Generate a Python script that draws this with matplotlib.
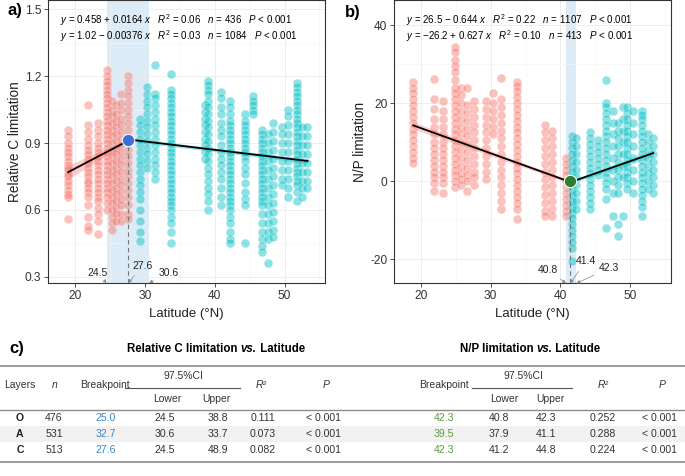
import numpy as np
import matplotlib
matplotlib.use("Agg")
import matplotlib.pyplot as plt
from matplotlib.lines import Line2D

plt.rcParams['font.family'] = ['Liberation Sans', 'DejaVu Sans']
plt.rcParams['mathtext.fontset'] = 'custom'
plt.rcParams['mathtext.rm'] = 'Liberation Sans'
plt.rcParams['mathtext.it'] = 'Liberation Sans:italic'
plt.rcParams['mathtext.bf'] = 'Liberation Sans:bold'
plt.rcParams['axes.unicode_minus'] = False

# ---------------- data: panel a (relative C limitation) ----------------
c_red = {
    19.0: [0.96, 0.93, 0.90, 0.88, 0.86, 0.84, 0.82, 0.80, 0.79, 0.78, 0.76, 0.75, 0.73, 0.71, 0.69, 0.67, 0.66, 0.56],
    21.9: [1.07, 0.98, 0.95, 0.92, 0.89, 0.87, 0.85, 0.83, 0.81, 0.79, 0.77, 0.75, 0.73, 0.72, 0.70, 0.68, 0.66, 0.62, 0.57, 0.53, 0.51],
    23.2: [0.99, 0.96, 0.93, 0.90, 0.88, 0.86, 0.84, 0.82, 0.80, 0.78, 0.76, 0.74, 0.72, 0.70, 0.68, 0.66, 0.64, 0.61, 0.58, 0.55, 0.49],
    24.6: [1.23, 1.20, 1.18, 1.16, 1.14, 1.12, 1.10, 1.08, 1.06, 1.04, 1.02, 1.00, 0.98, 0.96, 0.94, 0.92, 0.90, 0.88,
           0.86, 0.84, 0.82, 0.80, 0.78, 0.76, 0.74, 0.72, 0.70, 0.68, 0.66, 0.63, 0.60],
    25.3: [1.09, 1.05, 1.02, 0.99, 0.96, 0.93, 0.90, 0.87, 0.84, 0.81, 0.78, 0.75, 0.72, 0.69, 0.66, 0.63, 0.60, 0.57, 0.54, 0.51],
    25.9: [1.07, 1.03, 1.00, 0.97, 0.94, 0.91, 0.88, 0.85, 0.82, 0.79, 0.76, 0.73, 0.70, 0.67, 0.64, 0.61, 0.58, 0.55],
    26.5: [1.12, 1.08, 1.05, 1.01, 0.98, 0.95, 0.92, 0.89, 0.86, 0.83, 0.80, 0.77, 0.74, 0.71, 0.68, 0.65, 0.62, 0.58, 0.55],
    27.6: [1.20, 1.17, 1.14, 1.11, 1.08, 1.05, 1.02, 0.99, 0.96, 0.93, 0.90, 0.87, 0.84, 0.81, 0.78, 0.75, 0.72, 0.69,
           0.66, 0.62, 0.58, 0.56],
}
c_teal = {
    29.3: [1.01, 0.98, 0.95, 0.92, 0.89, 0.86, 0.83, 0.80, 0.77, 0.74, 0.71, 0.68, 0.65, 0.60, 0.55, 0.50, 0.46],
    30.3: [1.15, 1.12, 1.09, 1.06, 1.03, 1.00, 0.97, 0.94, 0.91, 0.88, 0.85, 0.82, 0.79],
    31.4: [1.25, 1.12, 1.10, 1.07, 1.04, 1.01, 0.98, 0.95, 0.92, 0.89, 0.86, 0.83, 0.80, 0.77, 0.74],
    33.8: [1.21, 1.14, 1.12, 1.10, 1.08, 1.06, 1.04, 1.02, 1.00, 0.98, 0.96, 0.94, 0.92, 0.90, 0.88, 0.86, 0.84, 0.82,
           0.80, 0.78, 0.76, 0.74, 0.72, 0.70, 0.68, 0.66, 0.64, 0.62, 0.60, 0.57, 0.54, 0.50, 0.45],
    38.6: [1.07, 1.04, 1.01, 0.98, 0.95, 0.92, 0.89, 0.86, 0.83],
    39.0: [1.18, 1.16, 1.14, 1.12, 1.09, 1.06, 1.03, 1.00, 0.97, 0.94, 0.91, 0.88, 0.85, 0.82, 0.79, 0.76, 0.73, 0.70,
           0.67, 0.64, 0.60],
    40.9: [1.13, 1.10, 1.06, 1.03, 0.99, 0.96, 0.93, 0.89, 0.86, 0.83, 0.80, 0.77, 0.74, 0.70, 0.66, 0.62],
    42.2: [1.09, 1.06, 1.03, 1.00, 0.98, 0.96, 0.94, 0.92, 0.90, 0.88, 0.86, 0.84, 0.82, 0.80, 0.78, 0.76, 0.74, 0.72,
           0.70, 0.68, 0.66, 0.64, 0.62, 0.60, 0.57, 0.54, 0.50, 0.47, 0.45],
    44.3: [1.03, 1.00, 0.98, 0.96, 0.94, 0.92, 0.90, 0.88, 0.86, 0.84, 0.82, 0.79, 0.76, 0.72, 0.68, 0.65, 0.62, 0.45],
    45.5: [1.11, 1.09, 1.07, 1.05, 1.03],
    46.7: [0.96, 0.94, 0.92, 0.90, 0.88, 0.86, 0.84, 0.82, 0.80, 0.78, 0.76, 0.74, 0.72, 0.70, 0.68, 0.66, 0.64, 0.62,
           0.58, 0.54, 0.50, 0.47, 0.44, 0.41],
    47.6: [0.94, 0.90, 0.86, 0.82, 0.78, 0.74, 0.70, 0.66, 0.62, 0.58, 0.54, 0.50, 0.47, 0.36],
    48.3: [0.99, 0.95, 0.91, 0.87, 0.83, 0.79, 0.75, 0.71, 0.67, 0.63, 0.59, 0.55, 0.51, 0.48],
    49.6: [0.97, 0.94, 0.90, 0.86, 0.82, 0.78, 0.74, 0.71],
    50.5: [1.05, 1.02, 0.98, 0.94, 0.90, 0.86, 0.82, 0.78, 0.74, 0.70, 0.66],
    51.8: [1.17, 1.15, 1.13, 1.11, 1.09, 1.07, 1.05, 1.03, 1.01, 0.99, 0.97, 0.95, 0.93, 0.91, 0.89, 0.87, 0.85, 0.83,
           0.81, 0.79, 0.77, 0.75, 0.73, 0.71, 0.68, 0.64],
    52.5: [0.97, 0.93, 0.89, 0.85, 0.81, 0.77, 0.73, 0.70, 0.66],
    53.2: [0.97, 0.93, 0.89, 0.85, 0.81, 0.77, 0.73, 0.70],
}

# ---------------- data: panel b (N/P limitation) ----------------
np_red = {
    18.9: [25.5, 24, 22.5, 21, 19.5, 18, 16.5, 15, 13.5, 12, 10.5, 9, 7.5, 6, 4.7],
    21.9: [26.3, 21, 18.5, 16, 14, 12, 10, 8.5, 7, 5.5, 4, 2.5, 1, -0.5, -2.5],
    23.2: [20.5, 18, 16, 14, 12, 10, 8.5, 7, 5.5, 4, 2.5, 1, -0.5, -3],
    24.9: [34.5, 33, 31, 29.5, 28, 26, 24, 22.5, 21, 19.5, 18, 16.5, 15, 13.5, 12, 10.5, 9, 7.5, 6, 4.5, 3, 1.5, 0, -1.5],
    25.7: [24, 22, 20, 18, 16, 14, 12, 10, 8, 6, 4, 2, 0.5, -1],
    26.6: [23.8, 19.5, 17.5, 15.5, 13.5, 11.5, 9.5, 7.5, 5.5, 3.5, 1.5, 0, -2.5],
    27.6: [20.5, 18.5, 16.5, 14.5, 12.5, 10.5, 8.5, 6.5, 4.5, 2.5, 1, -1],
    29.4: [20.5, 18.5, 16.5, 14.5, 12.5, 10.5, 8.5, 6.5, 4.5, 2.5, 0.5],
    30.4: [22.5, 20, 18, 16, 14, 12],
    31.5: [26.5, 21, 19, 17, 15, 13, 11, 9, 7, 5, 3, 1, -1, -3, -5, -7],
    33.8: [25.5, 24.5, 23, 21.5, 20, 18.5, 17, 15.5, 14, 12.5, 11, 9.5, 8, 6.5, 5, 3.5, 2, 0.5, -1, -2.5, -4, -5.5, -7, -9.7],
    37.8: [14.5, 12.5, 10.5, 8.5, 6.5, 4.5, 2.5, 0.5, -1.5, -3.5, -5.5, -7.5, -9],
    38.8: [13, 11, 9, 7, 5, 3, 1, -1, -3, -5, -7, -9],
    40.8: [6, 4.5, 3, 1.5, 0, -1.5, -3, -4.5, -6, -7.5, -9],
}
np_teal = {
    41.6: [11.5, 10, 8.5, 7, 5.5, 4, 2.5, 1, -0.5, -2, -3.5, -5, -6.5, -8, -9.5, -11, -12.5, -14, -15.5, -17, -20.5],
    42.3: [11, 9, 7, 5, 3, 1, -1, -3, -5, -7],
    44.3: [12.5, 11, 9.5, 8, 6.5, 5, 3.5, 2, 0.5, -1, -2.5, -4, -5.5, -7],
    45.4: [10.5, 9, 7.5, 6, 4.5, 3, 1.5],
    46.6: [26, 20, 19, 17.5, 16, 14.5, 13, 11.5, 10, 8.5, 7, 5.5, 4, 2.5, 1, -0.5, -2, -4.5, -12],
    47.5: [18, 15, 12, 9, 6, 3, 0, -3, -9],
    48.3: [15, 13, 11, 9, 7, 5, 3, 1, -1, -3, -11, -14],
    49.0: [19, 16, 13, 10, 7, 4, 1, -9],
    49.6: [19, 17.5, 16, 14.5, 13, 11.5, 10, 8.5, 7, 5.5, 4, 2.5, 1, -0.5, -2],
    50.4: [18, 15, 12, 9, 6, 3, 0, -3],
    51.7: [18, 17, 16, 14.5, 13, 11.5, 10, 8.5, 7, 5.5, 4, 2.5, 1, -0.5, -2, -3.5, -5, -6.5, -9],
    52.5: [12, 10, 8, 6, 4, 2, 0, -2],
    53.3: [11, 9, 7, 5, 3, 1, -1, -3],
}

# segmented fits: (intercept, slope, x_start, x_end)
fit_c = [(0.458, 0.0164, 19.0, 27.6), (1.02, -0.00376, 27.6, 53.3)]
fit_np = [(26.5, -0.644, 18.9, 41.4), (-26.2, 0.627, 41.4, 53.3)]
bp_c, ci_c = 27.6, (24.5, 30.6)
bp_np, ci_np = 41.4, (40.8, 42.3)
bp_c_y, bp_np_y = 0.914, 0.0

eq_c = [r"$y$ = 0.458 + 0.0164 $x$   $R^2$ = 0.06   $n$ = 436   $P$ < 0.001",
        r"$y$ = 1.02 $-$ 0.00376 $x$   $R^2$ = 0.03   $n$ = 1084   $P$ < 0.001"]
eq_np = [r"$y$ = 26.5 $-$ 0.644 $x$   $R^2$ = 0.22   $n$ = 1107   $P$ < 0.001",
         r"$y$ = $-$26.2 + 0.627 $x$   $R^2$ = 0.10   $n$ = 413   $P$ < 0.001"]

# table
layers = ['O', 'A', 'C']
n_obs = [476, 531, 513]
c_bp = ['25.0', '32.7', '27.6']
c_lo = ['24.5', '30.6', '24.5']
c_up = ['38.8', '33.7', '48.9']
c_r2 = ['0.111', '0.073', '0.082']
np_bp = ['42.3', '39.5', '42.3']
np_lo = ['40.8', '37.9', '41.2']
np_up = ['42.3', '41.1', '44.8']
np_r2 = ['0.252', '0.288', '0.224']
p_txt = '< 0.001'

RED = '#F8766D'
TEAL = '#00BFC4'
BAND = '#D4E7F3'

W, H = 685, 476
fig = plt.figure(figsize=(W / 100, H / 100), dpi=100)


def fx(px):
    return px / W


def fy(py):
    return 1 - py / H


def scatter_cols(ax, cols, color):
    xs, ys = [], []
    for lat, vals in cols.items():
        xs += [lat] * len(vals)
        ys += vals
    ax.scatter(xs, ys, s=40, color=color, alpha=0.45, edgecolors='white', linewidths=0.4, zorder=2)


def draw_panel(ax, red, teal, fits, bp, bp_y, ci, bp_color, widths, eqs, ylabel):
    ax.axvspan(ci[0], ci[1], color=BAND, alpha=0.8, lw=0, zorder=0.5)
    scatter_cols(ax, red, RED)
    scatter_cols(ax, teal, TEAL)
    for (a, b, x0, x1), col, (w0, w1) in zip(fits, [RED, TEAL], widths):
        xx = np.linspace(x0, x1, 50)
        yy = a + b * xx
        hw = np.interp(xx, [x0, x1], [w0, w1])
        ax.fill_between(xx, yy - hw, yy + hw, color=col, alpha=0.35, lw=0, zorder=3)
        ax.plot(xx, yy, color='black', lw=1.3, zorder=4)
    lo = ax.get_ylim()[0]
    ax.plot([bp, bp], [lo, bp_y], ls=(0, (4, 3)), color='#777777', lw=0.8, zorder=3)
    ax.scatter([bp], [bp_y], s=80, color=bp_color, edgecolors='white', linewidths=0.8, zorder=5)
    ax.text(0.043, 0.928, eqs[0], transform=ax.transAxes, fontsize=7.0, va='center')
    ax.text(0.043, 0.874, eqs[1], transform=ax.transAxes, fontsize=7.0, va='center')
    ax.set_xlabel('Latitude (°N)', fontsize=9.5, color='#222222', labelpad=4)
    ax.set_ylabel(ylabel, fontsize=9.8, color='#222222', labelpad=2)
    ax.set_xticks([20, 30, 40, 50])
    ax.set_xticks([25, 35, 45, 55], minor=True)
    ax.grid(True, which='major', color='#EBEBEB', lw=0.6, zorder=0)
    ax.grid(True, which='minor', color='#F5F5F5', lw=0.5, zorder=0)
    ax.set_axisbelow(True)
    ax.tick_params(labelsize=8.6, colors='#333333', length=3, width=0.6, pad=2)
    ax.tick_params(which='minor', length=0)
    for sp in ax.spines.values():
        sp.set_color('#333333')
        sp.set_linewidth(0.8)


def label_arrows(ax, items):
    y0 = ax.get_ylim()[0]
    for txt, x_to, (tx, ty) in items:
        ax.annotate(txt, xy=(x_to, y0), xycoords='data', xytext=(tx, ty), textcoords='data',
                    fontsize=7.5, ha='center', va='center', color='#222222',
                    arrowprops=dict(arrowstyle='-|>', color='#888888', lw=0.5, mutation_scale=5,
                                    shrinkA=2, shrinkB=0), zorder=6)


# panel a
ax1 = fig.add_axes([fx(48), fy(283), fx(277), 283 / H])
ax1.set_xlim(16.1, 55.8)
ax1.set_ylim(0.272, 1.542)
ax1.set_yticks([0.3, 0.6, 0.9, 1.2, 1.5])
ax1.set_yticks([0.45, 0.75, 1.05, 1.35], minor=True)
ax1.yaxis.set_major_formatter(matplotlib.ticker.FormatStrFormatter('%.1f'))
draw_panel(ax1, c_red, c_teal, fit_c, bp_c, bp_c_y, ci_c, '#3E6FD8',
           [(0.03, 0.01), (0.008, 0.01)], eq_c, 'Relative C limitation')
label_arrows(ax1, [('24.5', ci_c[0], (23.2, 0.315)), ('27.6', bp_c, (29.7, 0.35)),
                   ('30.6', ci_c[1], (33.4, 0.318))])

# panel b
ax2 = fig.add_axes([fx(394.3), fy(283.3), fx(276.4), 283.3 / H])
ax2.set_xlim(16.2, 55.8)
ax2.set_ylim(-26.1, 46.4)
ax2.set_yticks([-20, 0, 20, 40])
ax2.set_yticks([-10, 10, 30], minor=True)
draw_panel(ax2, np_red, np_teal, fit_np, bp_np, bp_np_y, ci_np, '#2E7D32',
           [(0.9, 0.4), (0.4, 0.9)], eq_np, 'N/P limitation')
label_arrows(ax2, [('40.8', ci_np[0], (38.2, -22.6)), ('41.4', bp_np, (43.6, -20.5)),
                   ('42.3', ci_np[1], (47.0, -22.2))])

fig.text(fx(7), fy(10), 'a)', fontsize=12, fontweight='bold', va='center', ha='left')
fig.text(fx(345), fy(13), 'b)', fontsize=12, fontweight='bold', va='center', ha='left')

# ---------------- panel c: table ----------------
fig.text(fx(9), fy(349), 'c)', fontsize=12, fontweight='bold', va='center', ha='left')
renderer = fig.canvas.get_renderer()


def title_with_vs(xc, y, left):
    parts = [(left + ' ', 'normal'), ('vs.', 'italic'), (' Latitude', 'normal')]
    texts = [fig.text(0, fy(y), s, fontsize=8.3, fontweight='bold', style=st, va='center', ha='left')
             for s, st in parts]
    widths = [t.get_window_extent(renderer).width for t in texts]
    x = xc - sum(widths) / 2
    for t, w in zip(texts, widths):
        t.set_x(fx(x))
        x += w


title_with_vs(216, 349, 'Relative C limitation')
title_with_vs(530, 349, 'N/P limitation')


def hline(y, x0=0, x1=W, lw=1.0, color='#8C8C8C'):
    fig.add_artist(Line2D([fx(x0), fx(x1)], [fy(y), fy(y)], color=color, lw=lw))


fig.add_artist(plt.Rectangle((0, fy(442)), 1, (442 - 426) / H, color='#F1F1F1', lw=0))
hline(365.5, lw=1.2)
hline(409.5, lw=1.0)
hline(461.5, lw=1.2)
hline(388, 125, 240, lw=0.8, color='#555555')
hline(388, 472, 572, lw=0.8, color='#555555')

hs = 7.5
tc = '#333333'
hy = 385
fig.text(fx(20), fy(hy), 'Layers', fontsize=hs, ha='center', va='center', color=tc)
fig.text(fx(55), fy(hy), 'n', fontsize=hs, style='italic', ha='center', va='center', color=tc)
for bx, cx, lx, ux, rx, px in [(105, 183, 167, 216, 261, 326), (444, 523, 504, 550, 603, 662)]:
    fig.text(fx(bx), fy(hy), 'Breakpoint', fontsize=hs, ha='center', va='center', color=tc)
    fig.text(fx(cx), fy(376), '97.5%CI', fontsize=hs, ha='center', va='center', color=tc)
    fig.text(fx(lx), fy(399.5), 'Lower', fontsize=hs, ha='center', va='center', color=tc)
    fig.text(fx(ux), fy(399.5), 'Upper', fontsize=hs, ha='center', va='center', color=tc)
    fig.text(fx(rx), fy(hy), 'R²', fontsize=hs, style='italic', ha='center', va='center', color=tc)
    fig.text(fx(px), fy(hy), 'P', fontsize=hs, style='italic', ha='center', va='center', color=tc)

row_y = [418, 434, 450]
ds = 7.6
for i, ry in enumerate(row_y):
    fig.text(fx(20), fy(ry), layers[i], fontsize=ds, fontweight='bold', ha='center', va='center', color='#222222')
    fig.text(fx(54), fy(ry), str(n_obs[i]), fontsize=ds, ha='center', va='center', color=tc)
    fig.text(fx(106), fy(ry), c_bp[i], fontsize=ds, ha='center', va='center', color='#3A86C8')
    fig.text(fx(165), fy(ry), c_lo[i], fontsize=ds, ha='center', va='center', color=tc)
    fig.text(fx(218), fy(ry), c_up[i], fontsize=ds, ha='center', va='center', color=tc)
    fig.text(fx(263), fy(ry), c_r2[i], fontsize=ds, ha='center', va='center', color=tc)
    fig.text(fx(324), fy(ry), p_txt, fontsize=ds, ha='center', va='center', color=tc)
    fig.text(fx(444), fy(ry), np_bp[i], fontsize=ds, ha='center', va='center', color='#5E9B3C')
    fig.text(fx(499), fy(ry), np_lo[i], fontsize=ds, ha='center', va='center', color=tc)
    fig.text(fx(546), fy(ry), np_up[i], fontsize=ds, ha='center', va='center', color=tc)
    fig.text(fx(603), fy(ry), np_r2[i], fontsize=ds, ha='center', va='center', color=tc)
    fig.text(fx(659), fy(ry), p_txt, fontsize=ds, ha='center', va='center', color=tc)

fig.savefig('out.png', dpi=100)
